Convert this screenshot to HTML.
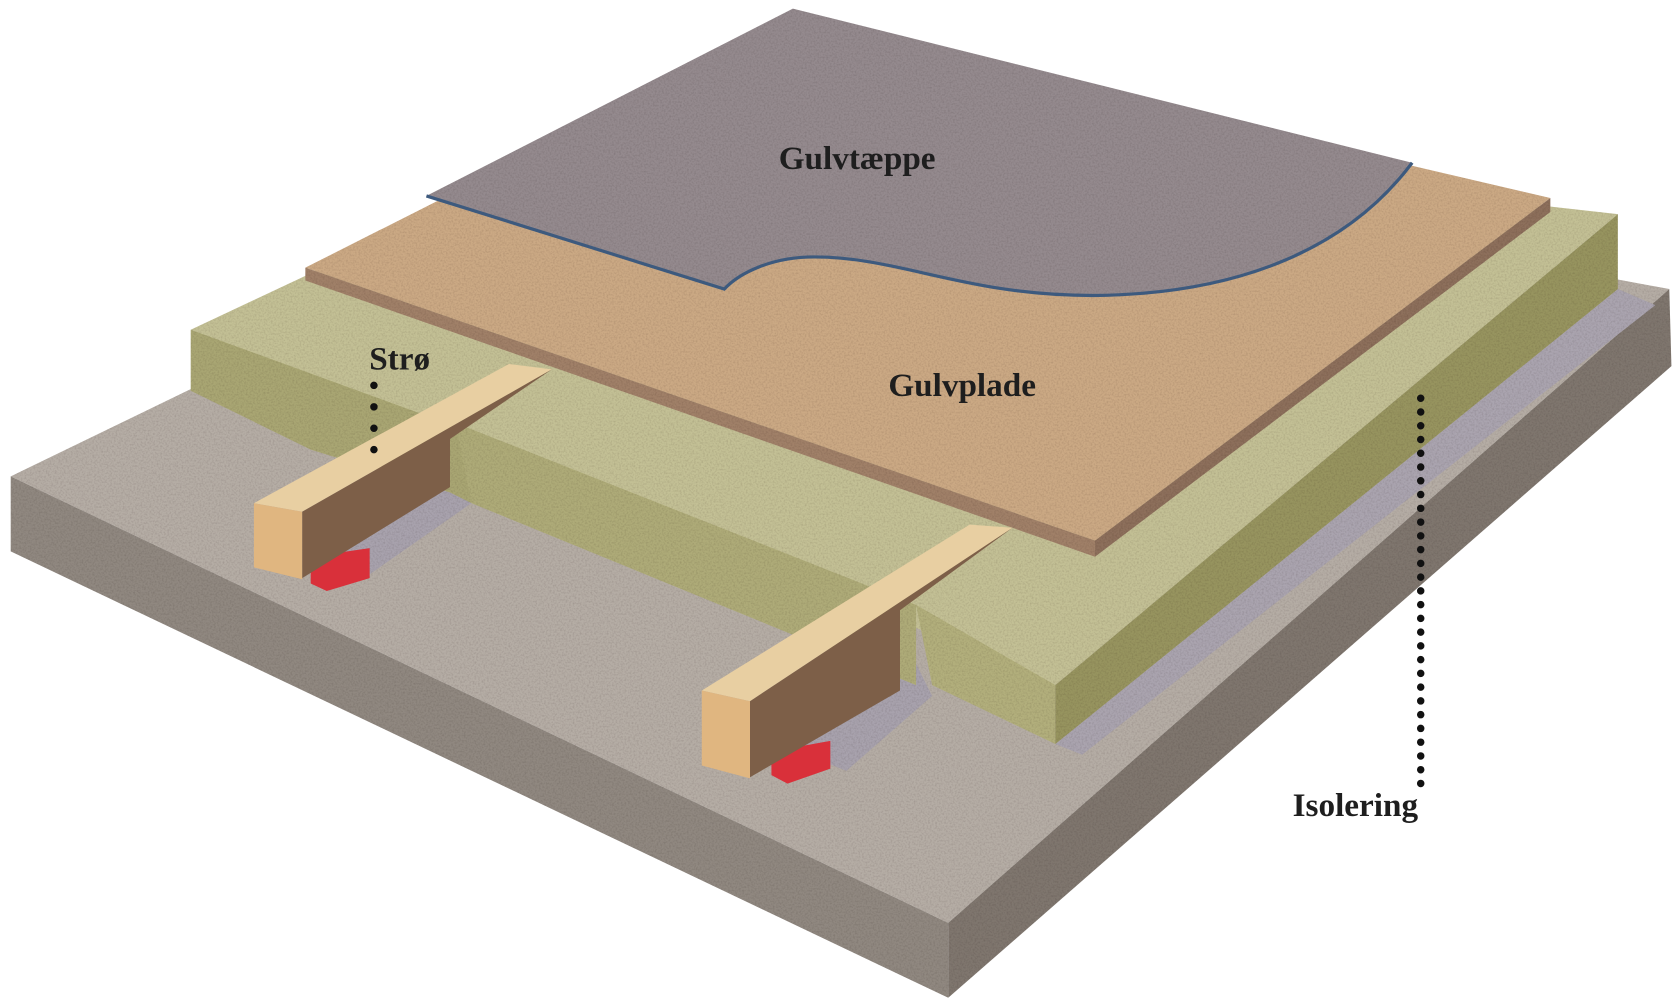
<!DOCTYPE html>
<html><head><meta charset="utf-8"><style>
html,body{margin:0;padding:0;background:#fff;width:1680px;height:1001px;overflow:hidden}
svg{display:block}
text{font-family:"Liberation Serif",serif;font-weight:bold;fill:#1e1e1e}
</style></head><body>
<svg width="1680" height="1001" viewBox="0 0 1568 935" preserveAspectRatio="none">
<defs>
<filter id="n" x="0" y="0" width="100%" height="100%">
<feTurbulence type="fractalNoise" baseFrequency="0.6" numOctaves="2" seed="3"/>
<feColorMatrix type="matrix" values="0 0 0 0 0.5 0 0 0 0 0.45 0 0 0 0 0.45 0 0 0 0.9 -0.35"/>
<feComposite in2="SourceGraphic" operator="in"/>
<feBlend in="SourceGraphic" mode="multiply"/>
</filter>
</defs>
<g filter="url(#n)">
<polygon points="10,445 700,110 1558,270 885,862" fill="#b5ada5"/>
<polygon points="10,445 885,862 885,932 10,515" fill="#908880"/>
<polygon points="885,862 1558,270 1560,342 885,932" fill="#7f766e"/>
<polygon points="985,695 1510,270 1545,285 1010,705" fill="#aaa4af"/>
<polygon points="282,480 420,420 440,470 340,540 300,520" fill="#a8a2ad"/>
<polygon points="700,660 840,590 870,650 790,720 740,700" fill="#a8a2ad"/>
</g>
<g filter="url(#n)">
<polygon points="178,308 620,100 1510,200 985,640" fill="#c3c095"/>
<polygon points="178,308 430,400 440,470 420,460 290,420 178,365" fill="#a9a673"/>
<polygon points="425,395 855,565 855,640 440,470" fill="#aeab78"/>
<polygon points="855,565 985,640 985,695 870,640" fill="#b2af7c"/>
<polygon points="985,640 1510,200 1510,270 985,695" fill="#97945f"/>
</g>
<g filter="url(#n)">
<polygon points="285,250 740,20 1447,185 1022,505" fill="#cba984"/>
<polygon points="285,250 1022,505 1022,520 285,262" fill="#a08068"/>
<polygon points="1022,505 1447,185 1447,198 1022,520" fill="#8d6f5b"/>
</g>
<g filter="url(#n)">
<path d="M398,183 L740,8 L1318,152 C1260,230 1160,275 1020,276 C900,276 840,240 760,240 C720,240 690,255 676,270 Z" fill="#948a8e"/>
</g>
<path d="M398,183 L676,270 C690,255 720,240 760,240 C840,240 900,276 1020,276 C1160,275 1260,230 1318,152" fill="none" stroke="#3d5a7e" stroke-width="3"/>
<polygon points="290,520 345,512 345,540 305,552 290,545" fill="#d9303a"/>
<polygon points="237,470 475,340 515,345 282,478" fill="#e8cfa2"/>
<polygon points="282,478 515,345 420,410 420,455 282,540" fill="#7d5f48"/>
<polygon points="237,470 282,478 282,541 237,530" fill="#e0b680"/>
<polygon points="720,702 775,692 775,718 735,732 720,724" fill="#d9303a"/>
<polygon points="655,645 905,490 945,493 700,655" fill="#e8cfa2"/>
<polygon points="700,655 945,493 840,570 840,645 700,726" fill="#7d5f48"/>
<polygon points="655,645 700,655 700,727 655,715" fill="#e0b680"/>
<text x="800" y="158" font-size="31" text-anchor="middle">Gulvtæppe</text>
<text x="898" y="370" font-size="31" text-anchor="middle">Gulvplade</text>
<text x="373" y="345" font-size="31" text-anchor="middle">Strø</text>
<text x="1265" y="762" font-size="31" text-anchor="middle">Isolering</text>
<line x1="349" y1="360" x2="349" y2="422" stroke="#111" stroke-width="7" stroke-linecap="round" stroke-dasharray="0 20"/>
<line x1="1326" y1="372" x2="1326" y2="732" stroke="#111" stroke-width="7" stroke-linecap="round" stroke-dasharray="0 12.85"/>
</svg>
</body></html>
